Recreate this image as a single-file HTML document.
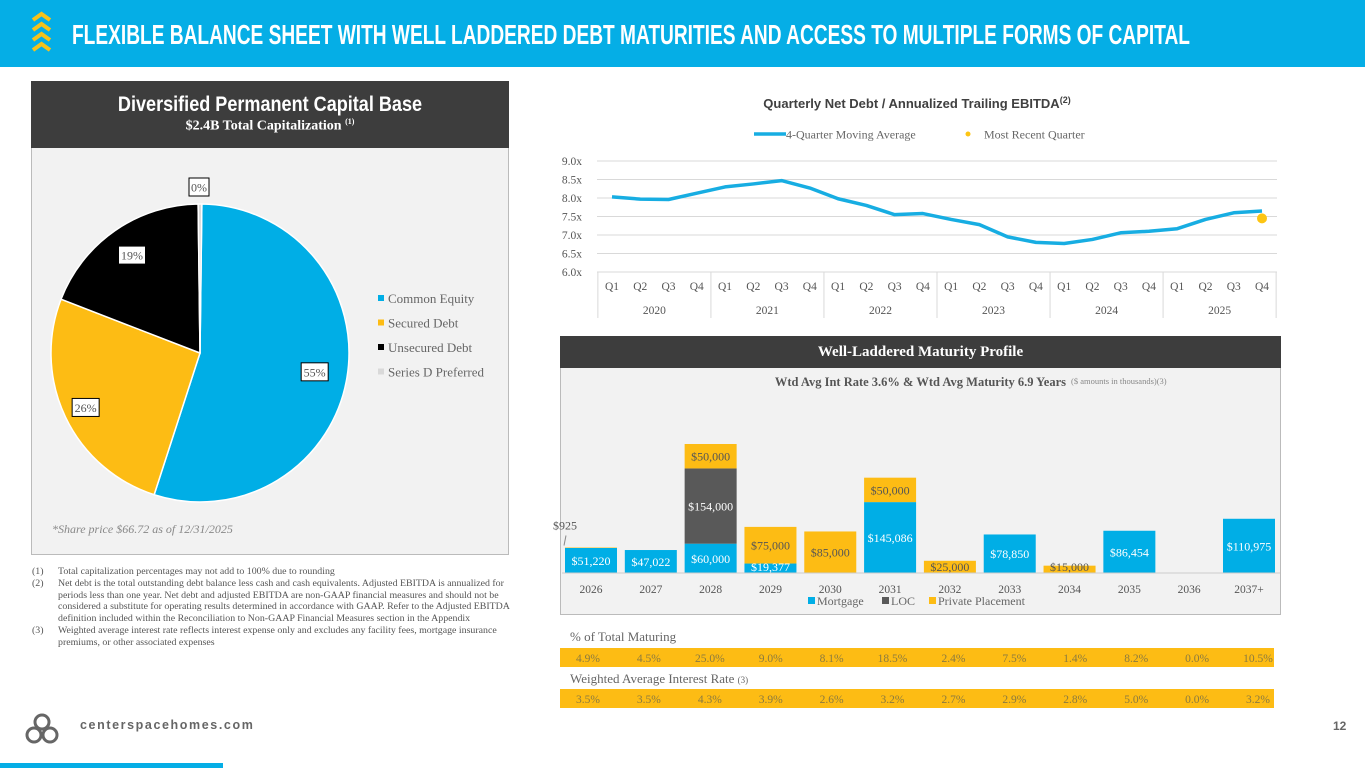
<!DOCTYPE html>
<html><head><meta charset="utf-8">
<style>
*{margin:0;padding:0;box-sizing:border-box}
body{width:1365px;height:768px;position:relative;overflow:hidden;background:#fff;font-family:"Liberation Serif",serif;color:#555}
.abs{position:absolute}
</style></head><body>
<div class="abs" style="left:0;top:0;width:1365px;height:67px;background:#05aee6"></div>
<svg class="abs" style="left:0;top:0" width="1365" height="68">
 <g fill="none" stroke="#f5c21b" stroke-width="4">
  <polyline points="33,20 41.5,14 50,20"/><polyline points="33,30 41.5,24 50,30"/><polyline points="33,40 41.5,34 50,40"/><polyline points="33,50 41.5,44 50,50"/>
 </g>
 <text x="72" y="44" fill="#fff" font-family="Liberation Sans Narrow, Liberation Sans, sans-serif" font-weight="bold" font-size="28" textLength="1118" lengthAdjust="spacingAndGlyphs">FLEXIBLE BALANCE SHEET WITH WELL LADDERED DEBT MATURITIES AND ACCESS TO MULTIPLE FORMS OF CAPITAL</text>
</svg>

<div class="abs" style="left:31px;top:81px;width:478px;height:67px;background:#3d3d3d;color:#fff;text-align:center">
 <div style="font-family:'Liberation Sans Narrow','Liberation Sans',sans-serif;font-weight:bold;font-size:21px;margin-top:12px;transform:scaleX(.86)">Diversified Permanent Capital Base</div>
 <div style="font-size:14px;font-weight:bold;margin-top:0px">$2.4B Total Capitalization <sup style="font-size:8px">(1)</sup></div>
</div>
<div class="abs" style="left:31px;top:148px;width:478px;height:407px;background:#f2f2f2;border:1px solid #bbb;border-top:none"></div>
<svg class="abs" id="pie" style="left:0;top:0" width="520" height="560"></svg>

<div class="abs" style="left:32px;top:566px;width:486px;font-size:9.9px;line-height:11.8px;color:#555">
 <div style="display:flex"><span style="width:26px;flex:none">(1)</span><span>Total capitalization percentages may not add to 100% due to rounding</span></div>
 <div style="display:flex"><span style="width:26px;flex:none">(2)</span><span>Net debt is the total outstanding debt balance less cash and cash equivalents. Adjusted EBITDA is annualized for periods less than one year. Net debt and adjusted EBITDA are non-GAAP financial measures and should not be considered a substitute for operating results determined in accordance with GAAP. Refer to the Adjusted EBITDA definition included within the Reconciliation to Non-GAAP Financial Measures section in the Appendix</span></div>
 <div style="display:flex"><span style="width:26px;flex:none">(3)</span><span>Weighted average interest rate reflects interest expense only and excludes any facility fees, mortgage insurance premiums, or other associated expenses</span></div>
</div>

<svg class="abs" style="left:24px;top:712px" width="36" height="34">
 <g fill="none" stroke="#666" stroke-width="3"><circle cx="18" cy="10" r="7"/><circle cx="10" cy="23" r="7"/><circle cx="26" cy="23" r="7"/></g>
</svg>
<div class="abs" style="left:80px;top:718px;font-family:'Liberation Sans',sans-serif;font-weight:bold;font-size:12.5px;letter-spacing:1.6px;color:#666">centerspacehomes.com</div>
<div class="abs" style="left:1333px;top:719px;font-family:'Liberation Sans',sans-serif;font-weight:bold;font-size:12px;color:#666">12</div>
<div class="abs" style="left:0;top:763px;width:223px;height:5px;background:#05aee6"></div>

<svg class="abs" id="line" style="left:0;top:0" width="1365" height="330"></svg>

<div class="abs" style="left:560px;top:336px;width:721px;height:32px;background:#3d3d3d;color:#fff;text-align:center;font-weight:bold;font-size:15px;line-height:32px">Well-Laddered Maturity Profile</div>
<div class="abs" style="left:560px;top:368px;width:721px;height:247px;background:#f2f2f2;border:1px solid #bbb;border-top:none"></div>
<svg class="abs" id="bar" style="left:0;top:0" width="1365" height="768"></svg>

<script>
// pie data
const pieLabels=["Common Equity","Secured Debt","Unsecured Debt","Series D Preferred"];
const pieValues=[55,26,19,0.4];
const pieText=["55%","26%","19%","0%"];
// line data
const quarters=["Q1","Q2","Q3","Q4"];
const years=["2020","2021","2022","2023","2024","2025"];
const movingAvg=[8.03,7.97,7.96,8.13,8.30,8.38,8.47,8.27,7.98,7.80,7.55,7.58,7.42,7.28,6.95,6.80,6.77,6.88,7.06,7.10,7.17,7.42,7.60,7.65];
const recentQuarter=7.45;
const yTicks=[6.0,6.5,7.0,7.5,8.0,8.5,9.0];
// bar data
const barYears=["2026","2027","2028","2029","2030","2031","2032","2033","2034","2035","2036","2037+"];
const mortgage=[51220,47022,60000,19377,0,145086,0,78850,0,86454,0,110975];
const loc=[0,0,154000,0,0,0,0,0,0,0,0,0];
const privatePlacement=[925,0,50000,75000,85000,50000,25000,0,15000,0,0,0];
const pctMaturing=["4.9%","4.5%","25.0%","9.0%","8.1%","18.5%","2.4%","7.5%","1.4%","8.2%","0.0%","10.5%"];
const intRate=["3.5%","3.5%","4.3%","3.9%","2.6%","3.2%","2.7%","2.9%","2.8%","5.0%","0.0%","3.2%"];

const NS="http://www.w3.org/2000/svg";
function mk(p,tag,attrs,txt){const e=document.createElementNS(NS,tag);for(const k in attrs)e.setAttribute(k,attrs[k]);if(txt!==undefined)e.textContent=txt;p.appendChild(e);return e;}

// PIE
(function(){
 const s=document.getElementById('pie');const cx=200,cy=353,r=149;
 const cols=["#00aee6","#fdbc14","#000000","#d9d9d9"];
 const tot=pieValues.reduce((a,b)=>a+b,0);
 let start=-Math.PI/2+(pieValues[3]/tot)*Math.PI;
 const labelPos=[];
 pieValues.forEach((v,i)=>{
  const ang=v/tot*2*Math.PI;const a1=start+ang;
  const x0=cx+r*Math.cos(start),y0=cy+r*Math.sin(start),x1=cx+r*Math.cos(a1),y1=cy+r*Math.sin(a1);
  const p=mk(s,'path',{d:`M${cx},${cy}L${x0},${y0}A${r},${r} 0 ${ang>Math.PI?1:0} 1 ${x1},${y1}Z`,fill:cols[i],stroke:'#fff','stroke-width':1.5});
  
  
  labelPos.push(start+ang/2);start=a1;
 });
 const rr=[0.78,0.85,0.8,1.1];
 labelPos.forEach((a,i)=>{
  let lx=cx+r*rr[i]*Math.cos(a),ly=cy+r*rr[i]*Math.sin(a);
  if(i===3){lx=199;ly=187;}
  const g=mk(s,'g',{});
  
  
  const w=pieText[i].length*7+6;
  mk(g,'rect',{x:lx-w/2,y:ly-9,width:w,height:18,fill:'#fff',stroke:'#000','stroke-width':1});
  mk(g,'text',{x:lx,y:ly+4.5,'text-anchor':'middle','font-size':12,fill:'#555'},pieText[i]);
 });
 pieLabels.forEach((l,i)=>{
  const y=299+i*24.5;
  const g=mk(s,'g',{});
  
  
  mk(g,'rect',{x:378,y:y-4,width:6,height:6,fill:cols[i]});
  mk(g,'text',{x:388,y:y+4,'font-size':13,fill:'#666'},l);
 });
 const t=mk(s,'text',{x:52,y:533,'font-size':12,'font-style':'italic',fill:'#888'},'*Share price $66.72 as of 12/31/2025');
 
 
})();

// LINE
(function(){
 const s=document.getElementById('line');
 const x0=612,step=(1262-612)/23,yb=272,ppu=37;
 const X=i=>x0+i*step,Y=v=>yb-(v-6)*ppu;
 const t=mk(s,'text',{x:917,y:108,'text-anchor':'middle','font-family':'Liberation Sans Narrow, Liberation Sans, sans-serif','font-weight':'bold','font-size':13,fill:'#404040'},'Quarterly Net Debt / Annualized Trailing EBITDA');
 
 
 mk(t,'tspan',{dy:-5,'font-size':9},'(2)');
 const lg=mk(s,'g',{});
 
 
 mk(lg,'line',{x1:754,y1:134,x2:786,y2:134,stroke:'#17ade2','stroke-width':3.5});
 mk(lg,'text',{x:786,y:138.5,'font-size':12,fill:'#666'},'4-Quarter Moving Average');
 mk(lg,'circle',{cx:968,cy:134,r:2.5,fill:'#fdc513'});
 mk(lg,'text',{x:984,y:138.5,'font-size':12,fill:'#666'},'Most Recent Quarter');
 yTicks.forEach(v=>{
  if(v>6)mk(s,'line',{x1:597,y1:Y(v),x2:1277,y2:Y(v),stroke:'#d9d9d9','stroke-width':1});
  const tx=mk(s,'text',{x:582,y:Y(v)+4,'text-anchor':'end','font-size':11.5,fill:'#555'},v.toFixed(1)+'x');
  
  
 });
 mk(s,'line',{x1:597,y1:yb,x2:1277,y2:yb,stroke:'#d9d9d9'});
 for(let k=0;k<=years.length;k++){const xx=x0-step/2+k*step*4;mk(s,'line',{x1:xx,y1:yb,x2:xx,y2:318,stroke:'#d9d9d9'});}
 movingAvg.forEach((v,i)=>{
  mk(s,'text',{x:X(i),y:290,'text-anchor':'middle','font-size':11.5,fill:'#555'},quarters[i%4]);
 });
 years.forEach((y,k)=>{mk(s,'text',{x:X(k*4+1.5),y:314,'text-anchor':'middle','font-size':11.5,fill:'#555'},y);});
 const pts=movingAvg.map((v,i)=>X(i)+','+Y(v)).join(' ');
 const pl=mk(s,'polyline',{points:pts,fill:'none',stroke:'#17ade2','stroke-width':3.5,'stroke-linejoin':'round'});
 
 
 const c=mk(s,'circle',{cx:X(23),cy:Y(recentQuarter),r:5,fill:'#fdc513'});
 
 
})();

// BAR
(function(){
 const s=document.getElementById('bar');
 const x0=591,step=(1249-591)/11,yb=573,k=129/264000,bw=52;
 const X=i=>x0+i*step,H=v=>v*k;
 const tstep=(1258-588)/11;
 const t=mk(s,'text',{x:1066,y:386,'text-anchor':'end','font-weight':'bold','font-size':12.5,fill:'#555'},'Wtd Avg Int Rate 3.6% & Wtd Avg Maturity 6.9 Years');
 
 
 mk(s,'text',{x:1071,y:384,'font-size':8.5,fill:'#888'},'($ amounts in thousands)(3)');
 const cols=["#00aee6","#595959","#fdbc14"];
 const series=[mortgage,loc,privatePlacement];
 const txtCol=["#fff","#fff","#555"];
 barYears.forEach((yr,i)=>{
  let base=yb;
  series.forEach((ser,j)=>{
   const v=ser[i];if(!v)return;const h=H(v);
   const r=mk(s,'rect',{x:X(i)-bw/2,y:base-h,width:bw,height:h,fill:cols[j]});
   
   
   const lab='$'+v.toLocaleString('en-US');
   if(v<5000){mk(s,'text',{x:X(i)-26,y:base-h-18,'text-anchor':'middle','font-size':12,fill:'#555'},lab);
     mk(s,'line',{x1:X(i)-25,y1:base-h-12,x2:X(i)-27,y2:base-h-2,stroke:'#888'});}
   else mk(s,'text',{x:X(i),y:Math.min(base-h/2+4.5,base-2),'text-anchor':'middle','font-size':12,fill:txtCol[j]},lab);
   base-=h;
  });
  mk(s,'text',{x:X(i),y:593,'text-anchor':'middle','font-size':11.5,fill:'#555'},yr);
  mk(s,'text',{x:588+i*tstep,y:662,'text-anchor':'middle','font-size':11.5,fill:'#8a7a40'},pctMaturing[i]);
  mk(s,'text',{x:588+i*tstep,y:703,'text-anchor':'middle','font-size':11.5,fill:'#8a7a40'},intRate[i]);
 });
 mk(s,'line',{x1:562,y1:yb,x2:1280,y2:yb,stroke:'#ccc'});
 const lg=mk(s,'g',{});
 
 
 [["Mortgage",808],["LOC",882],["Private Placement",929]].forEach((e,j)=>{
  mk(lg,'rect',{x:e[1],y:597,width:7,height:7,fill:cols[j]});
  mk(lg,'text',{x:e[1]+9,y:605,'font-size':12,fill:'#666'},e[0]);
 });
 const g=mk(s,'g',{});
 
 
 const r1=mk(s,'rect',{x:560,y:648,width:714,height:19,fill:'#fdbc14'});
 const r2=mk(s,'rect',{x:560,y:689,width:714,height:19,fill:'#fdbc14'});
 s.insertBefore(r1,s.firstChild);s.insertBefore(r2,s.firstChild);
 mk(g,'text',{x:570,y:641,'font-size':13,fill:'#666'},'% of Total Maturing');
 const w=mk(g,'text',{x:570,y:683,'font-size':13,fill:'#666'},'Weighted Average Interest Rate ');
 mk(w,'tspan',{'font-size':9},'(3)');
})();
</script>
</body></html>
